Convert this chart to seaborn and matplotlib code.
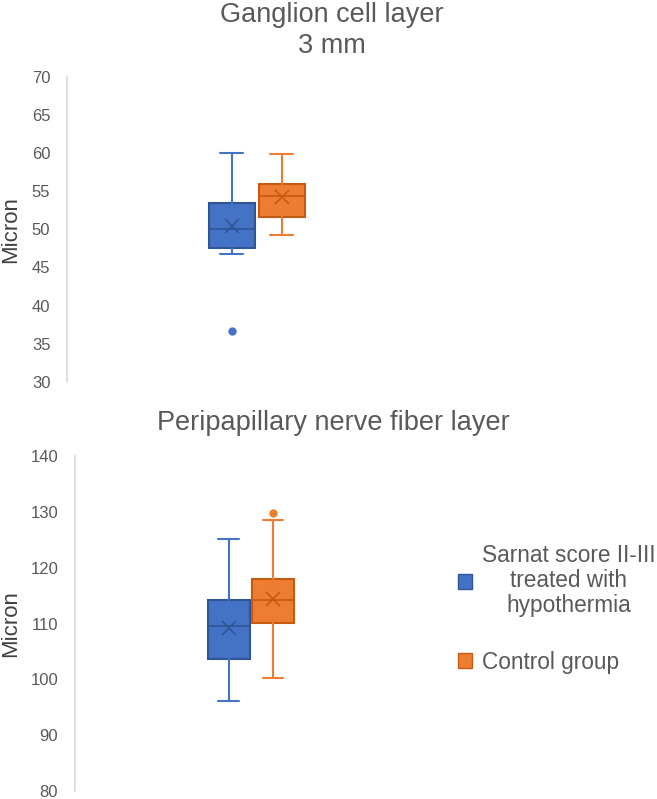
import matplotlib
matplotlib.use("Agg")
import matplotlib.pyplot as plt
import seaborn as sns
from matplotlib.patches import Patch

sns.set_style("white")
plt.rcParams['font.family'] = ['Liberation Sans', 'DejaVu Sans']

groups = ["Sarnat score II-III\ntreated with\nhypothermia", "Control group"]
colors = ["#4472C4", "#ED7D31"]
edges = ["#2F5597", "#C55A11"]

# Ganglion cell layer 3 mm
gcl_low = [46.7, 49.3]
gcl_q1 = [47.6, 51.6]
gcl_med = [50.0, 54.4]
gcl_q3 = [53.5, 56.0]
gcl_high = [60.0, 59.9]
gcl_mean = [50.4, 54.2]
gcl_out = [[36.7], []]

# Peripapillary nerve fiber layer
rnfl_low = [96.1, 100.2]
rnfl_q1 = [103.6, 110.2]
rnfl_med = [109.6, 114.2]
rnfl_q3 = [114.2, 118.0]
rnfl_high = [125.2, 128.6]
rnfl_mean = [109.2, 114.4]
rnfl_out = [[], [129.9]]


def stats(low, q1, med, q3, high, mean, out):
    return [dict(whislo=low[i], q1=q1[i], med=med[i], q3=q3[i], whishi=high[i],
                 mean=mean[i], fliers=out[i]) for i in range(len(low))]


def draw(ax, st, pos, width):
    for i, s in enumerate(st):
        ax.bxp([s], positions=[pos[i]], widths=width, patch_artist=True,
               showmeans=True, showcaps=True,
               boxprops=dict(facecolor=colors[i], edgecolor=edges[i], linewidth=1.5),
               medianprops=dict(color=edges[i], linewidth=1.2),
               whiskerprops=dict(color=colors[i], linewidth=1.5),
               capprops=dict(color=colors[i], linewidth=1.5),
               meanprops=dict(marker='x', markeredgecolor=edges[i], markersize=10,
                              markeredgewidth=1.2),
               flierprops=dict(marker='o', markerfacecolor=colors[i],
                               markeredgecolor=colors[i], markersize=5))


def style(ax, lo, hi, step):
    ax.set_xlim(0, 1)
    ax.set_ylim(lo, hi)
    ax.set_yticks(range(lo, hi + 1, step))
    ax.set_xticks([])
    for sp in ["top", "right", "bottom"]:
        ax.spines[sp].set_visible(False)
    ax.spines["left"].set_color("#D9D9D9")
    ax.spines["left"].set_linewidth(1.2)
    ax.tick_params(axis='y', length=0, labelsize=12, labelcolor="#595959", pad=12)
    ax.set_ylabel("Micron", fontsize=16, color="#404040")


fig = plt.figure(figsize=(6.57, 7.99), dpi=100)

ax1 = fig.add_axes([0.102, 0.522, 0.578, 0.382])
draw(ax1, stats(gcl_low, gcl_q1, gcl_med, gcl_q3, gcl_high, gcl_mean, gcl_out),
     [0.434, 0.566], 0.121)
style(ax1, 30, 70, 5)
ax1.yaxis.set_label_coords(-0.122, 0.5)

ax2 = fig.add_axes([0.114, 0.010, 0.536, 0.419])
draw(ax2, stats(rnfl_low, rnfl_q1, rnfl_med, rnfl_q3, rnfl_high, rnfl_mean, rnfl_out),
     [0.4375, 0.5625], 0.119)
style(ax2, 80, 140, 10)
ax2.yaxis.set_label_coords(-0.153, 0.5)

fig.text(0.505, 0.997, "Ganglion cell layer\n3 mm", ha='center', va='top',
         fontsize=19.5, color="#595959", linespacing=1.22)
fig.text(0.507, 0.471, "Peripapillary nerve fiber layer", ha='center', va='center',
         fontsize=19.5, color="#595959")

handles = [Patch(facecolor=colors[i], edgecolor=edges[i], label=groups[i]) for i in range(2)]
leg = fig.legend(handles=handles, loc='center left', bbox_to_anchor=(0.697, 0.238),
                 frameon=False, fontsize=16.3, labelspacing=1.5, handlelength=0.62,
                 handleheight=0.62, handletextpad=0.44, borderpad=0, borderaxespad=0)
for t in leg.get_texts():
    t.set_color("#595959")
    t.set_multialignment('center')
    t.set_linespacing(1.1)

fig.savefig("out.png", dpi=100)
